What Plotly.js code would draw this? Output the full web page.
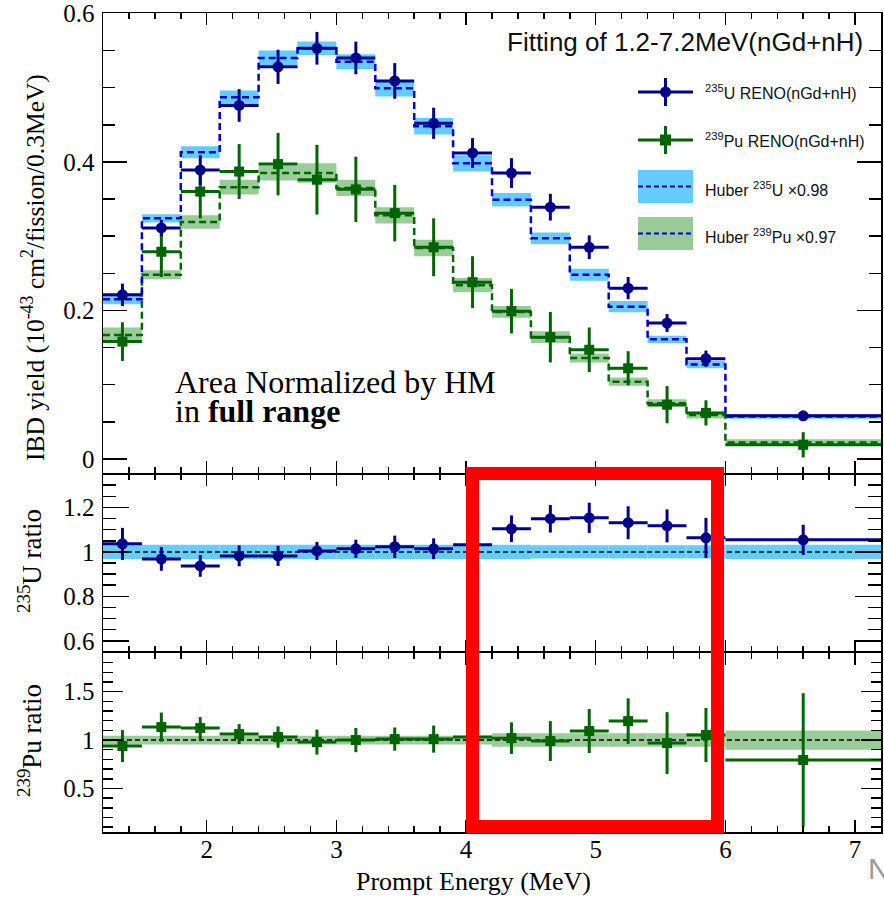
<!DOCTYPE html>
<html><head><meta charset="utf-8">
<script src="https://cdn.plot.ly/plotly-3.0.1.min.js"></script>
<style>html,body{margin:0;padding:0;background:#fff;} #chart{width:884px;height:897px;}</style>
</head><body><div id="chart"></div>
<script>
// ---- data ----
const binEdges = [1.2,1.5,1.8,2.1,2.4,2.7,3.0,3.3,3.6,3.9,4.2,4.5,4.8,5.1,5.4,5.7,6.0,7.2];
const xTickVals = [2,3,4,5,6,7];

const uYield   = [0.221,0.311,0.389,0.476,0.528,0.553,0.540,0.509,0.452,0.412,0.385,0.339,0.285,0.230,0.183,0.135,0.058];
const uErr     = [0.015,0.011,0.020,0.022,0.023,0.022,0.022,0.024,0.021,0.020,0.020,0.018,0.016,0.015,0.012,0.011,0.004];
const uHuber   = [0.215,0.324,0.413,0.487,0.540,0.553,0.535,0.499,0.448,0.398,0.349,0.297,0.248,0.205,0.161,0.127,0.057];
const uHuberBand=[0.0067,0.0056,0.008,0.009,0.010,0.009,0.010,0.011,0.011,0.011,0.009,0.008,0.008,0.0075,0.005,0.005,0.003];

const puYield  = [0.158,0.279,0.360,0.387,0.397,0.376,0.363,0.331,0.285,0.238,0.199,0.164,0.147,0.122,0.073,0.062,0.019];
const puErr    = [0.026,0.034,0.036,0.037,0.042,0.047,0.044,0.038,0.039,0.035,0.030,0.034,0.030,0.023,0.025,0.017,0.017];
const puHuber  = [0.167,0.248,0.319,0.366,0.385,0.385,0.365,0.328,0.284,0.234,0.198,0.164,0.136,0.104,0.075,0.059,0.022];
const puHuberBand=[0.010,0.006,0.009,0.010,0.010,0.013,0.011,0.011,0.011,0.0095,0.008,0.008,0.006,0.0056,0.0054,0.0045,0.0045];

const uRatio    = [1.036,0.968,0.937,0.982,0.982,1.004,1.014,1.023,1.014,1.032,1.104,1.149,1.153,1.131,1.117,1.063,1.054];
const uRatioErr = [0.072,0.053,0.049,0.047,0.045,0.041,0.041,0.050,0.047,0.045,0.060,0.062,0.068,0.074,0.074,0.090,0.068];
const uRatioBand= [0.032,0.032,0.032,0.032,0.032,0.032,0.032,0.032,0.032,0.032,0.032,0.030,0.030,0.030,0.030,0.030,0.032];

const puRatio    = [0.938,1.134,1.124,1.062,1.031,0.979,1.000,1.010,1.010,1.031,1.020,0.990,1.093,1.196,0.969,1.052,0.794];
const puRatioErr = [0.165,0.150,0.113,0.103,0.110,0.129,0.125,0.120,0.140,0.150,0.163,0.206,0.227,0.235,0.320,0.280,0.690];
const puRatioBand= [0.045,0.045,0.045,0.045,0.045,0.045,0.045,0.045,0.045,0.045,0.070,0.070,0.070,0.070,0.070,0.070,0.100];

// ---- derived from bins ----
const centers = binEdges.slice(0,-1).map((e,i)=> (e+binEdges[i+1])/2);
const widths  = binEdges.slice(0,-1).map((e,i)=> binEdges[i+1]-e);
const halfW   = widths.map(w=>w/2);
const stepY = arr => arr.concat([arr[arr.length-1]]);

// ---- styles ----
const C_U='#00008b', C_PU='#006400', C_UBAND='#66ccff', C_PUBAND='#99cc99', C_UH='#0000cc', C_PUH='#006600';
const SERIF='Liberation Serif, Times New Roman, serif', SANS='Liberation Sans, Arial, sans-serif';

const W=884,H=897,M={l:103,r:3,t:13,b:65};
const plotW=W-M.l-M.r, plotH=H-M.t-M.b;
const PX = p => (p-M.l)/plotW;
const PY = p => (H-M.b-p)/plotH;

function band(y, b, color, xa, ya){
  return {type:'bar', x:centers, width:widths, base:y.map((v,i)=>v-b[i]), y:b.map(v=>2*v),
    marker:{color:color, line:{width:0}}, xaxis:xa, yaxis:ya, hoverinfo:'skip', showlegend:false};
}
function step(y, color, xa, ya){
  return {type:'scatter', mode:'lines', x:binEdges, y:stepY(y), line:{shape:'hv', color:color, width:2.5, dash:'7px,4px'},
    xaxis:xa, yaxis:ya, hoverinfo:'skip', showlegend:false};
}
function pts(y, e, color, sym, size, xa, ya){
  return {type:'scatter', mode:'markers', x:centers, y:y,
    marker:{color:color, symbol:sym, size:size},
    error_y:{type:'data', array:e, visible:true, color:color, thickness:3, width:0},
    error_x:{type:'data', array:halfW, visible:true, color:color, thickness:3, width:0},
    xaxis:xa, yaxis:ya, showlegend:false};
}
function unity(xa, ya){
  return {type:'scatter', mode:'lines', x:[binEdges[0], binEdges[binEdges.length-1]], y:[1,1],
    line:{color:'#000', width:1.5, dash:'5px,3px'}, xaxis:xa, yaxis:ya, hoverinfo:'skip', showlegend:false};
}

const traces = [
  band(puHuber, puHuberBand, C_PUBAND, 'x', 'y'),
  band(uHuber, uHuberBand, C_UBAND, 'x', 'y'),
  step(puHuber, C_PUH, 'x', 'y'),
  step(uHuber, C_UH, 'x', 'y'),
  pts(puYield, puErr, C_PU, 'square', 10, 'x', 'y'),
  pts(uYield, uErr, C_U, 'circle', 11, 'x', 'y'),
  band(uRatio.map(()=>1), uRatioBand, C_UBAND, 'x2', 'y2'),
  unity('x2','y2'),
  pts(uRatio, uRatioErr, C_U, 'circle', 11, 'x2', 'y2'),
  band(puRatio.map(()=>1), puRatioBand, C_PUBAND, 'x3', 'y3'),
  unity('x3','y3'),
  pts(puRatio, puRatioErr, C_PU, 'square', 10, 'x3', 'y3'),
];

function xax(anchor, labels){
  return {anchor:anchor, domain:[0,1], range:[binEdges[0], binEdges[binEdges.length-1]], tickvals:xTickVals,
    ticks:'inside', ticklen:12, tickwidth:1.5, tickcolor:'#000', showline:true, linecolor:'#000', linewidth:1.5,
    mirror:'ticks', showgrid:false, zeroline:false, showticklabels:labels,
    tickfont:{family:SERIF, size:25, color:'#000'}, ticklabelstandoff:-6,
    minor:{dtick:0.2, tick0:0, ticks:'inside', ticklen:6, tickwidth:1.5, tickcolor:'#000', showgrid:false},
    fixedrange:true};
}
function yax(anchor, domain, range, dtick, tick0, mdtick, len, mlen){
  return {anchor:anchor, domain:domain, range:range, dtick:dtick, tick0:tick0,
    ticks:'inside', ticklen:len, tickwidth:1.5, tickcolor:'#000', showline:true, linecolor:'#000', linewidth:1.5,
    mirror:'ticks', showgrid:false, zeroline:false, tickfont:{family:SERIF, size:25, color:'#000'},
    minor:{dtick:mdtick, tick0:0, ticks:'inside', ticklen:mlen, tickwidth:1.5, tickcolor:'#000', showgrid:false},
    ticklabelstandoff:2, fixedrange:true};
}

// legend (drawn as decorations)
const L = {x0:638, x1:693, xc:665.5, tx:703, y1:92, y2:140, y3a:170, y3b:203, y4a:217, y4b:250};
const shapes = [
  // red highlight box
  {type:'rect', xref:'paper', yref:'paper', x0:PX(472.5), x1:PX(717.5), y0:PY(826.5), y1:PY(473.5),
   line:{color:'#ff0000', width:13}, fillcolor:'rgba(0,0,0,0)', layer:'above'},
  // legend entry 1
  {type:'line', xref:'paper', yref:'paper', x0:PX(L.x0), x1:PX(L.x1), y0:PY(L.y1), y1:PY(L.y1), line:{color:C_U,width:3}},
  {type:'line', xref:'paper', yref:'paper', x0:PX(L.xc), x1:PX(L.xc), y0:PY(L.y1-14), y1:PY(L.y1+14), line:{color:C_U,width:3}},
  {type:'circle', xref:'paper', yref:'paper', x0:PX(L.xc-5.5), x1:PX(L.xc+5.5), y0:PY(L.y1-5.5), y1:PY(L.y1+5.5), fillcolor:C_U, line:{color:C_U,width:0}},
  // legend entry 2
  {type:'line', xref:'paper', yref:'paper', x0:PX(L.x0), x1:PX(L.x1), y0:PY(L.y2), y1:PY(L.y2), line:{color:C_PU,width:3}},
  {type:'line', xref:'paper', yref:'paper', x0:PX(L.xc), x1:PX(L.xc), y0:PY(L.y2-14), y1:PY(L.y2+14), line:{color:C_PU,width:3}},
  {type:'rect', xref:'paper', yref:'paper', x0:PX(L.xc-5.5), x1:PX(L.xc+5.5), y0:PY(L.y2-5.5), y1:PY(L.y2+5.5), fillcolor:C_PU, line:{color:C_PU,width:0}},
  // legend entry 3
  {type:'rect', xref:'paper', yref:'paper', x0:PX(L.x0), x1:PX(L.x1), y0:PY(L.y3b), y1:PY(L.y3a), fillcolor:C_UBAND, line:{width:0}},
  {type:'line', xref:'paper', yref:'paper', x0:PX(L.x0), x1:PX(L.x1), y0:PY((L.y3a+L.y3b)/2), y1:PY((L.y3a+L.y3b)/2), line:{color:C_UH,width:2, dash:'5px,3px'}},
  // legend entry 4
  {type:'rect', xref:'paper', yref:'paper', x0:PX(L.x0), x1:PX(L.x1), y0:PY(L.y4b), y1:PY(L.y4a), fillcolor:C_PUBAND, line:{width:0}},
  {type:'line', xref:'paper', yref:'paper', x0:PX(L.x0), x1:PX(L.x1), y0:PY((L.y4a+L.y4b)/2), y1:PY((L.y4a+L.y4b)/2), line:{color:C_UH,width:2, dash:'5px,3px'}},
];

function ann(text, x, y, font, opts){
  return Object.assign({text:text, xref:'paper', yref:'paper', x:PX(x), y:PY(y), showarrow:false,
    xanchor:'left', yanchor:'middle', font:font}, opts||{});
}
const legFont = {family:SANS, size:16, color:'#111'};
const annotations = [
  ann('Fitting of 1.2-7.2MeV(nGd+nH)', 505, 42, {family:SANS, size:26, color:'#111'}),
  ann('<sup>235</sup>U RENO(nGd+nH)', L.tx, L.y1, legFont),
  ann('<sup>239</sup>Pu RENO(nGd+nH)', L.tx, L.y2, legFont),
  ann('Huber <sup>235</sup>U ×0.98', L.tx, (L.y3a+L.y3b)/2+2, legFont),
  ann('Huber <sup>239</sup>Pu ×0.97', L.tx, (L.y4a+L.y4b)/2+2, legFont),
  ann('Area Normalized by HM', 173, 382, {family:SERIF, size:32, color:'#000'}),
  ann('in <b>full range</b>', 173, 411, {family:SERIF, size:32, color:'#000'}),
  // axis titles
  ann('IBD yield (10<sup>-43</sup> cm<sup>2</sup>/fission/0.3MeV)', 33, 268, {family:SERIF, size:25.5, color:'#000'}, {xanchor:'center', textangle:-90}),
  ann('<sup>235</sup>U ratio', 30, 561, {family:SERIF, size:27, color:'#000'}, {xanchor:'center', textangle:-90}),
  ann('<sup>239</sup>Pu ratio', 30, 741, {family:SERIF, size:27, color:'#000'}, {xanchor:'center', textangle:-90}),
  ann('Prompt Energy (MeV)', 473, 881, {family:SERIF, size:26, color:'#000'}, {xanchor:'center'}),
  ann('N', 866, 868, {family:SANS, size:30, color:'#999'}),
];

const layout = {
  width:W, height:H, margin:M, paper_bgcolor:'#fff', plot_bgcolor:'#fff',
  font:{family:SERIF, color:'#000'},
  barmode:'overlay', showlegend:false,
  xaxis:xax('y', false), xaxis2:xax('y2', false), xaxis3:xax('y3', true),
  yaxis: yax('x',  [0.4383,1],      [-0.019,0.6005], 0.2, 0, 0.05, 24, 12),
  yaxis2:yax('x2', [0.2198,0.4371], [0.55,1.35],     0.2, 0, 0.05, 26, 13),
  yaxis3:yax('x3', [0,0.2186],      [0.05,1.9],      0.5, 0, 0.1,  20, 10),
  shapes:shapes, annotations:annotations,
};
Plotly.newPlot('chart', traces, layout, {displayModeBar:false, staticPlot:true});
</script></body></html>
